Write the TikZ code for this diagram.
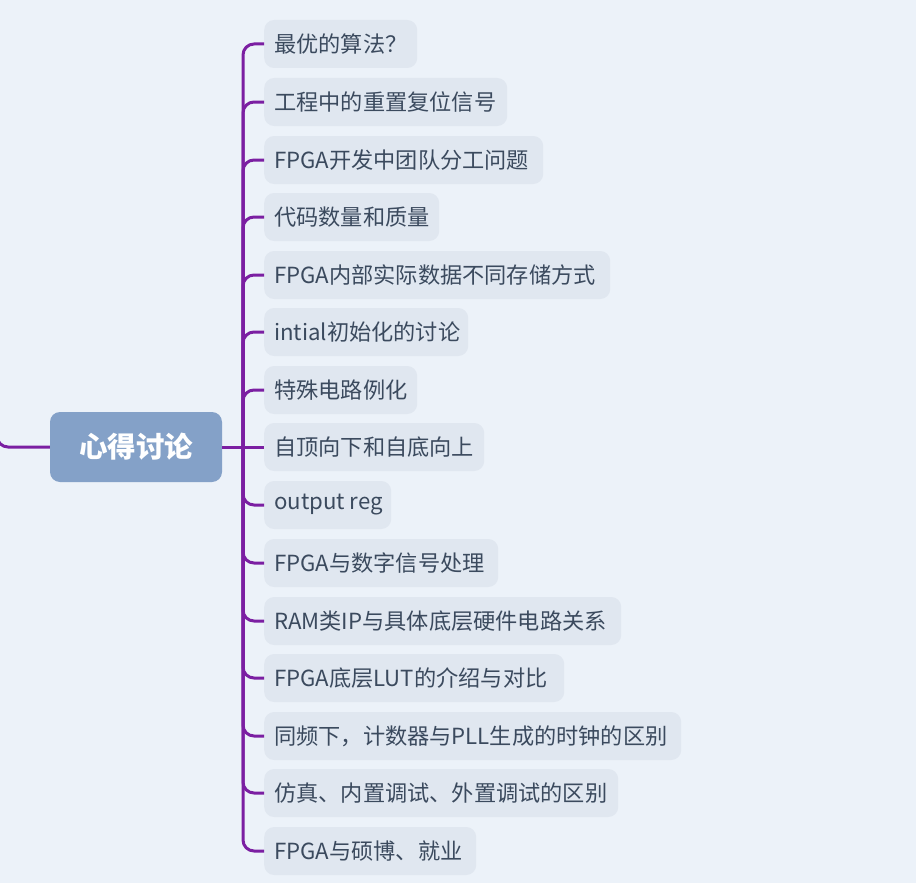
\documentclass[tikz,border=0pt]{standalone}
\usepackage{fontspec}
\setmainfont{Noto Sans CJK SC}
\definecolor{bgc}{HTML}{ECF2F9}
\definecolor{boxc}{HTML}{E0E7F0}
\definecolor{rootc}{HTML}{84A1C8}
\definecolor{txtc}{HTML}{3B4A5E}
\definecolor{linec}{HTML}{7B1FA2}
\tikzset{
  leaf/.style={anchor=west, fill=boxc, rounded corners=10pt, minimum height=48pt,
    inner xsep=10pt, inner ysep=0pt, text=txtc, align=left,
    font=\fontsize{22.2}{26}\selectfont},
  lw/.style={text width=#1pt-20pt},
  root/.style={fill=rootc, rounded corners=10pt, minimum width=172pt, minimum height=70pt,
    text=white, font=\fontsize{28.5}{32}\selectfont\bfseries},
  conn/.style={draw=linec, line width=3pt, rounded corners=11pt},
}
\begin{document}
\begin{tikzpicture}[x=1pt,y=-1pt]
\fill[bgc] (0,0) rectangle (916,883);
\useasboundingbox (0,0) rectangle (916,883);
\node[root] (r) at (136,447) {心得讨论};
\coordinate (t) at (243,447);
\coordinate (p) at (-3,400);
\node[leaf,lw=153] (c1) at (264,44) {最优的算法？};
\node[leaf,lw=243] (c2) at (264,102) {工程中的重置复位信号};
\node[leaf,lw=279] (c3) at (264,160) {FPGA开发中团队分工问题};
\node[leaf,lw=175] (c4) at (264,217) {代码数量和质量};
\node[leaf,lw=346] (c5) at (264,275) {FPGA内部实际数据不同存储方式};
\node[leaf,lw=204] (c6) at (264,332) {intial初始化的讨论};
\node[leaf,lw=153] (c7) at (264,390) {特殊电路例化};
\node[leaf,lw=220] (c8) at (264,447) {自顶向下和自底向上};
\node[leaf,lw=127] (c9) at (264,505) {\mbox{output\hspace{0.22em}reg}};
\node[leaf,lw=234] (c10) at (264,563) {FPGA与数字信号处理};
\node[leaf,lw=357] (c11) at (264,621) {RAM类IP与具体底层硬件电路关系};
\node[leaf,lw=300] (c12) at (264,678) {FPGA底层LUT的介绍与对比};
\node[leaf,lw=417] (c13) at (264,736) {同频下，计数器与PLL生成的时钟的区别};
\node[leaf,lw=354] (c14) at (264,793) {仿真、内置调试、外置调试的区别};
\node[leaf,lw=212] (c15) at (264,851) {FPGA与硕博、就业};
\draw[conn] (p) |- (r.west);
\draw[conn] (r.east) -- (t);
\foreach \c in {c1,c2,c3,c4,c5,c6,c7,c9,c10,c11,c12,c13,c14,c15}
  \draw[conn] (t) |- (\c.west);
\draw[conn] (t) -- (c8.west);
\end{tikzpicture}
\end{document}
